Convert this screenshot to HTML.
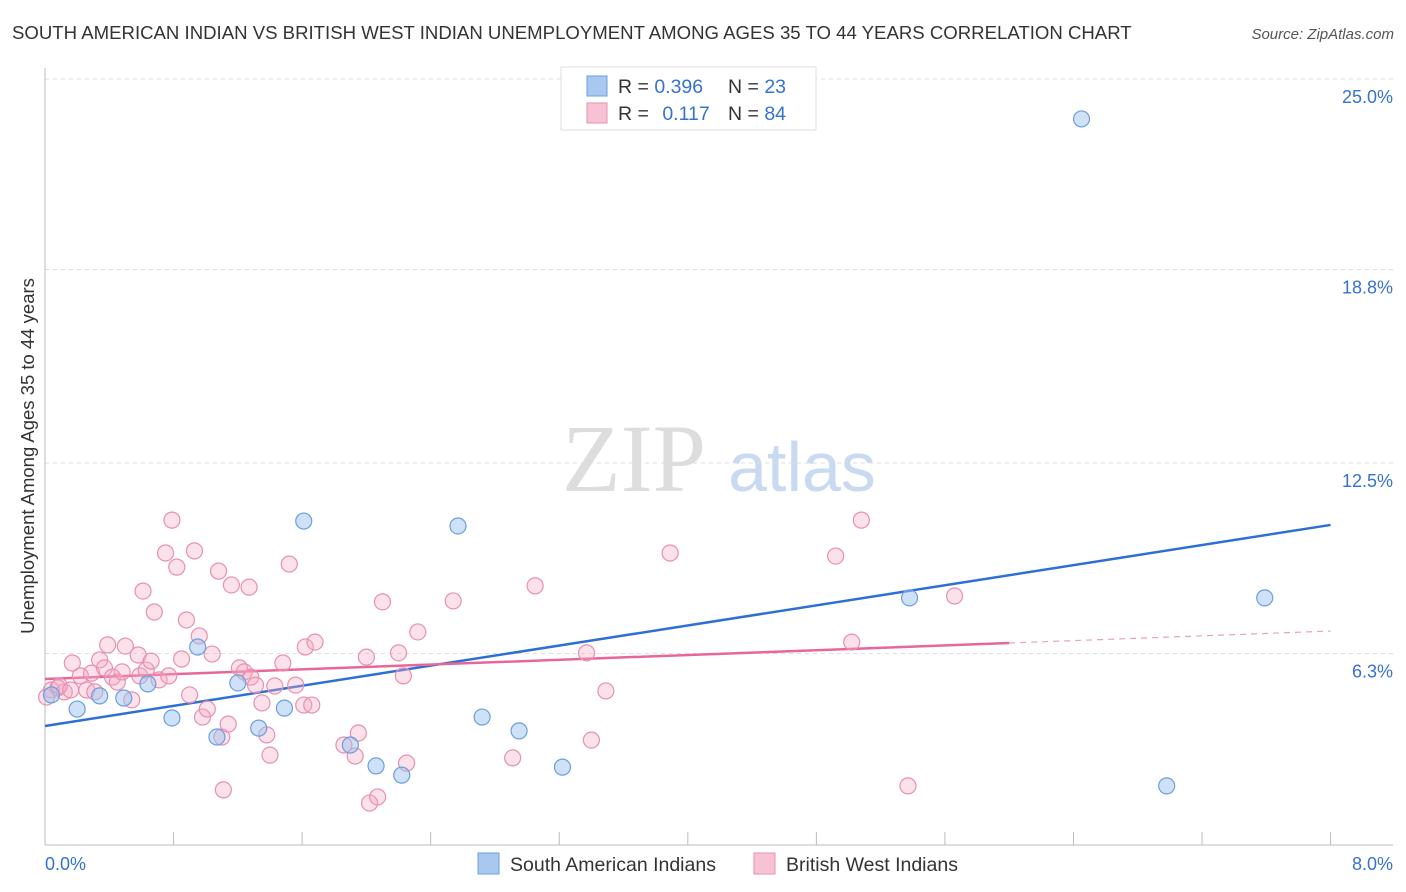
<!DOCTYPE html>
<html><head><meta charset="utf-8"><style>
body{margin:0;background:#fff;font-family:"Liberation Sans",sans-serif;}
#wrap{position:relative;width:1406px;height:892px;overflow:hidden;}
</style></head><body>
<div id="wrap">
<svg id="svg" width="1406" height="892" xmlns="http://www.w3.org/2000/svg">
<text x="12" y="39" font-size="18.6" fill="#333">SOUTH AMERICAN INDIAN VS BRITISH WEST INDIAN UNEMPLOYMENT AMONG AGES 35 TO 44 YEARS CORRELATION CHART</text>
<text x="1394" y="39" font-size="15" fill="#555" font-style="italic" text-anchor="end">Source: ZipAtlas.com</text>
<text x="634" y="491" font-size="96" fill="#ddd" font-family="Liberation Serif,serif" text-anchor="middle">ZIP</text>
<text x="802" y="491" font-size="70" fill="#c8daf2" text-anchor="middle">atlas</text>
<text transform="translate(34,456) rotate(-90)" font-size="18.5" fill="#333" text-anchor="middle">Unemployment Among Ages 35 to 44 years</text>
<g id="grid"></g><g id="trends"></g><g id="pts"></g>
<g>
<rect x="561" y="67" width="255" height="63" fill="#fff" stroke="#ddd"/>
<rect x="587" y="76" width="20" height="20" fill="#a8c8f0" stroke="#6a9fde"/>
<rect x="587" y="103" width="20" height="20" fill="#f7c2d4" stroke="#e890b0"/>
<text x="618" y="93" font-size="19.5" fill="#333">R = <tspan fill="#3572d0">0.396</tspan></text>
<text x="728" y="93" font-size="19.5" fill="#333">N = <tspan fill="#3572d0">23</tspan></text>
<text x="618" y="120" font-size="19.5" fill="#333">R = <tspan fill="#3572d0" dx="8">0.117</tspan></text>
<text x="728" y="120" font-size="19.5" fill="#333">N = <tspan fill="#3572d0">84</tspan></text>
</g>
<g>
<rect x="478" y="853" width="21" height="21" fill="#a8c8f0" stroke="#6a9fde"/>
<text x="510" y="871" font-size="19.5" fill="#333">South American Indians</text>
<rect x="754" y="853" width="21" height="21" fill="#f7c2d4" stroke="#e890b0"/>
<text x="786" y="871" font-size="19.5" fill="#333">British West Indians</text>
</g>
</svg></div>
<script>
const yTicks=[25.0,18.8,12.5,6.3];
const yTickLabels=["25.0%","18.8%","12.5%","6.3%"];
const xTickLabels=["0.0%","8.0%"];
const blueX=[0.04,0.20,0.34,0.49,0.64,0.79,0.95,1.07,1.20,1.33,1.49,1.61,1.90,2.06,2.22,2.57,2.72,2.95,3.22,5.38,6.45,6.98,7.59];
const blueY=[4.95,4.49,4.92,4.85,5.31,4.20,6.51,3.58,5.34,3.87,4.52,10.61,3.32,2.64,2.34,10.45,4.23,3.78,2.60,8.11,23.70,1.99,8.11];
const pinkX=[.04,.08,.12,.01,.17,.22,.26,.29,.34,.37,.39,.42,.45,.48,.50,.54,.58,.59,.61,.63,.66,.68,.71,.75,.79,.82,.85,.88,.90,.93,.96,.98,1.01,1.04,1.08,1.10,1.11,1.14,1.16,1.21,1.24,1.27,1.28,1.31,1.35,1.38,1.40,1.43,1.48,1.52,1.56,1.61,1.62,1.66,1.68,1.86,1.93,1.95,2.00,2.02,2.07,2.10,2.20,2.23,2.25,2.32,2.54,2.91,3.05,3.37,3.40,3.49,3.89,4.92,5.02,5.08,5.37,5.66,.09,.16,.31,.77];
const pinkY=[5.11,5.18,5.05,4.88,5.99,5.57,5.11,5.66,6.09,5.83,6.58,5.53,5.37,5.70,6.54,4.79,6.25,5.57,8.33,5.76,6.05,7.65,5.44,9.57,10.64,9.11,6.12,7.39,4.95,9.64,6.87,4.23,4.49,6.28,8.98,3.58,1.86,4.00,8.53,5.83,5.70,8.46,5.53,5.27,4.69,3.65,2.99,5.24,5.99,9.21,5.27,4.62,6.51,4.62,6.67,3.32,2.96,3.71,6.18,1.43,1.63,7.98,6.32,5.57,2.73,7.00,8.01,2.90,8.50,6.32,3.48,5.08,9.57,9.47,6.67,10.64,1.99,8.17,5.24,5.11,5.05,5.57];
const blueTrend=[3.94,0.818];
const pinkTrend=[5.47,0.195];
const pinkSolidEnd=6.0;
const X0=45,XS=160.7,Y0=847,YS=30.72;
const sx=v=>X0+v*XS, sy=v=>Y0-v*YS;
const NS="http://www.w3.org/2000/svg";
function mk(tag,attrs,parent){const e=document.createElementNS(NS,tag);for(const k in attrs)e.setAttribute(k,attrs[k]);document.getElementById(parent).appendChild(e);return e;}
yTicks.forEach((t,i)=>{
 const l=mk('line',{x1:45,x2:1393,y1:sy(t),y2:sy(t),stroke:'#ddd','stroke-dasharray':'4,4'},'grid');
 
 
 const tx=mk('text',{x:1393,y:sy(t)+24,'font-size':18,fill:'#3572d0','text-anchor':'end'},'grid');
 tx.textContent=yTickLabels[i];
 
 
});
const ax=mk('line',{x1:45,x2:45,y1:68,y2:845,stroke:'#bbb'},'grid');


const bx=mk('line',{x1:45,x2:1393,y1:845,y2:845,stroke:'#bbb'},'grid');


for(let i=0;i<=10;i++){
 const t=mk('line',{x1:sx(i*0.8),x2:sx(i*0.8),y1:832,y2:845,stroke:'#bbb'},'grid');
 
 
}
[[0,'start',45],[8,'end',1393]].forEach((d,i)=>{
 const tx=mk('text',{x:d[2],y:870,'font-size':18,fill:'#3572d0','text-anchor':d[1]},'grid');
 tx.textContent=xTickLabels[i];
 
 
});
pinkX.forEach((x,i)=>{
 const c=mk('circle',{cx:sx(x),cy:sy(pinkY[i]),r:8,fill:'rgba(244,170,196,0.35)',stroke:'#e98fb0','stroke-width':1.2},'pts');
 
 
});
blueX.forEach((x,i)=>{
 const c=mk('circle',{cx:sx(x),cy:sy(blueY[i]),r:8,fill:'rgba(160,195,238,0.5)',stroke:'#6a9fde','stroke-width':1.2},'pts');
 
 
});
const bt=mk('line',{x1:sx(0),y1:sy(blueTrend[0]),x2:sx(8),y2:sy(blueTrend[0]+8*blueTrend[1]),stroke:'#2d6fd6','stroke-width':2.5},'trends');


const pt=mk('line',{x1:sx(0),y1:sy(pinkTrend[0]),x2:sx(pinkSolidEnd),y2:sy(pinkTrend[0]+pinkSolidEnd*pinkTrend[1]),stroke:'#e8679a','stroke-width':2.5},'trends');


const pd=mk('line',{x1:sx(pinkSolidEnd),y1:sy(pinkTrend[0]+pinkSolidEnd*pinkTrend[1]),x2:sx(8),y2:sy(pinkTrend[0]+8*pinkTrend[1]),stroke:'#e8a0bc','stroke-width':1.2,'stroke-dasharray':'6,5'},'trends');


</script>
</body></html>
